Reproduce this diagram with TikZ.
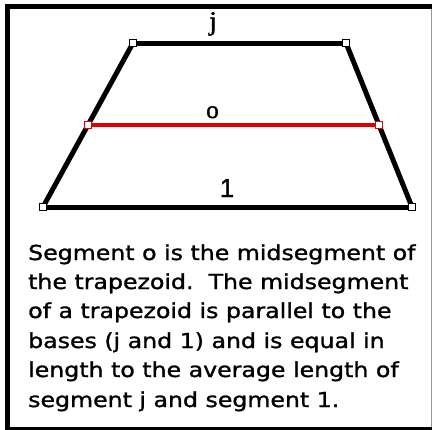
\documentclass[tikz,border=0pt]{standalone}
\usepackage{fontspec}
\usetikzlibrary{calc}
\newfontfamily\txtfont[FakeBold=1.2]{DejaVu Sans}
\newfontfamily\labfont[FakeBold=1.5]{Liberation Serif}
\newfontfamily\labsfont[FakeBold=1.5]{Liberation Sans}
\definecolor{segred}{RGB}{224,0,0}
\definecolor{framegray}{RGB}{150,150,150}
\begin{document}
\begin{tikzpicture}[x=1bp,y=-1bp,
  edge/.style={line width=5bp,line cap=round,line join=round},
  midseg/.style={line width=4bp,segred},
  vtx/.style={rectangle,draw=black,fill=white,line width=1bp,minimum size=7bp,inner sep=0pt},
  midvtx/.style={vtx,draw=segred},
  lab/.style={inner sep=0pt,anchor=base,font=\labfont\fontsize{25bp}{27bp}\selectfont},
  txtline/.style={inner sep=0pt,anchor=base west,font=\txtfont\fontsize{20.6bp}{24bp}\selectfont}
]
\useasboundingbox (0,0) rectangle (432,430);
% frame
\fill[white] (0,0) rectangle (432,430);
\fill[black] (5,4) rectangle (432,9);
\fill[black] (5,4) rectangle (10,430);
\fill[black] (5,427) rectangle (432,430);
\draw[framegray,line width=1bp] (431,9) -- (431,427);
% trapezoid
\coordinate (A) at (133,43);
\coordinate (B) at (346,43);
\coordinate (C) at (412,207);
\coordinate (D) at (43,207);
\coordinate (M1) at ($(A)!0.5!(D)$);
\coordinate (M2) at ($(B)!0.5!(C)$);
\draw[edge] (A) -- (B);
\draw[edge] (B) -- (C);
\draw[edge] (C) -- (D);
\draw[edge] (D) -- (A);
\draw[midseg] (M1) -- (M2);
\node[vtx] (va) at (A) {};
\node[vtx] (vb) at (B) {};
\node[vtx] (vc) at (C) {};
\node[vtx] (vd) at (D) {};
\node[midvtx] (vm1) at (M1) {};
\node[midvtx] (vm2) at (M2) {};
% labels
\node[lab,font=\labfont\fontsize{27bp}{29bp}\selectfont] (lj) at (213,30) {j};
\node[lab] (lo) at (212.5,118) {o};
\node[lab,font=\labsfont\fontsize{26bp}{28bp}\selectfont] (ll) at (227,197) {1};
% text
\node[txtline] (t1) at (28,260) {\scalebox{1.148}[1]{Segment o is the midsegment of}};
\node[txtline] (t2) at (28,289) {\scalebox{1.148}[1]{the trapezoid.\ \ The midsegment}};
\node[txtline] (t3) at (28,318) {\scalebox{1.148}[1]{of a trapezoid is parallel to the}};
\node[txtline] (t4) at (28,348) {\scalebox{1.148}[1]{bases (j and 1) and is equal in}};
\node[txtline] (t5) at (28,377) {\scalebox{1.148}[1]{length to the average length of}};
\node[txtline] (t6) at (28,407) {\scalebox{1.148}[1]{segment j and segment 1.}};
\end{tikzpicture}
\end{document}
